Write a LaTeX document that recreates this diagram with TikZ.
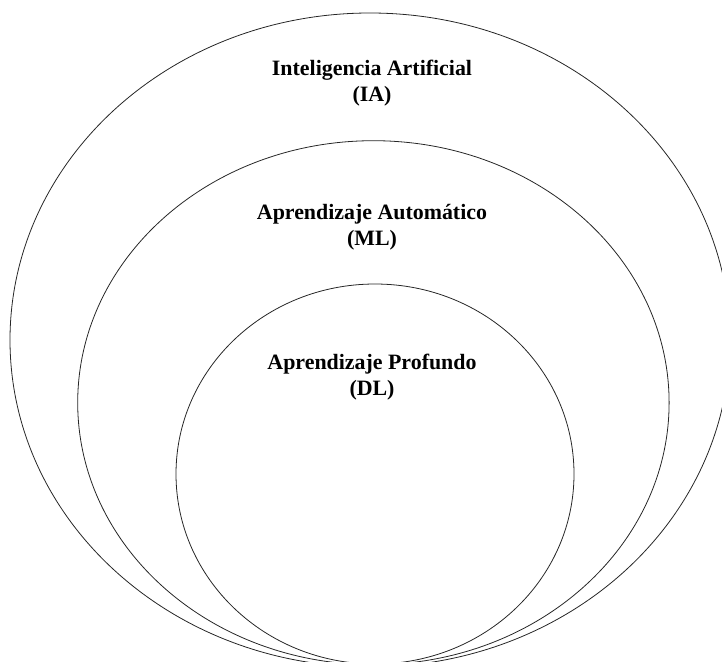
\documentclass[tikz,border=0pt]{standalone}
\usepackage{fontspec}
\setmainfont{Liberation Serif}
\usetikzlibrary{shapes.geometric}
\begin{document}
\begin{tikzpicture}[x=1pt,y=-1pt,
  set/.style={ellipse,draw=black!85,line width=0.8pt,inner sep=0pt},
  setlabel/.style={align=center,anchor=base,inner sep=0pt,
    font=\fontsize{21.9}{26}\selectfont\bfseries}]
  \useasboundingbox (0,0) rectangle (722,661);
  \clip (0,0) rectangle (722,661);
  % nested sets
  \node[set,minimum width=720pt,minimum height=654pt] (ia) at (370,340) {};
  \node[set,minimum width=591.4pt,minimum height=524pt] (ml) at (373.4,402.7) {};
  \node[set,minimum width=398pt,minimum height=380pt] (dl) at (375,474) {};
  % labels (placed by the baseline of their last line)
  \node[setlabel] (tia) at (372,101) {Inteligencia Artificial\\(IA)};
  \node[setlabel] (tml) at (372,245) {Aprendizaje Automático\\(ML)};
  \node[setlabel] (tdl) at (372,395) {Aprendizaje Profundo\\(DL)};
\end{tikzpicture}
\end{document}
